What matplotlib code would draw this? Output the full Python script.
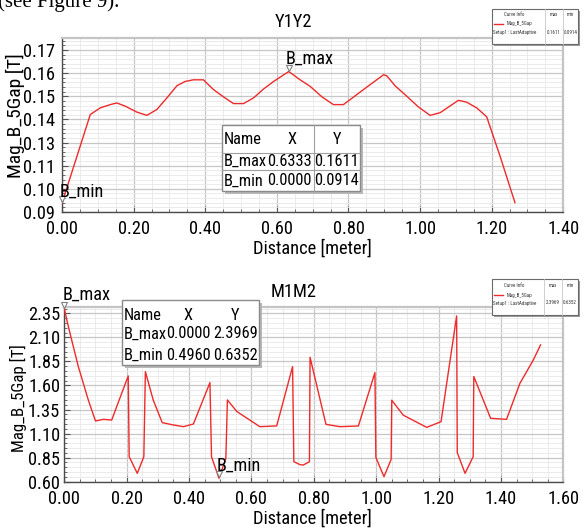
import matplotlib
matplotlib.use('Agg')
import matplotlib.pyplot as plt
from matplotlib.ticker import FixedLocator, AutoMinorLocator, FixedFormatter, FormatStrFormatter
from matplotlib.patches import Rectangle
from matplotlib import font_manager as fm
import matplotlib.transforms as mtrans

# ---------------- data ----------------
y1y2_x = [0.000, 0.079, 0.107, 0.135, 0.153, 0.177, 0.209, 0.237, 0.265, 0.293, 0.321,
          0.344, 0.367, 0.395, 0.423, 0.451, 0.479, 0.507, 0.535, 0.563, 0.591, 0.6333,
          0.665, 0.693, 0.726, 0.758, 0.786, 0.842, 0.898, 0.907, 0.930, 0.963, 0.995,
          1.028, 1.056, 1.107, 1.130, 1.158, 1.186, 1.223, 1.265]
y1y2_y = [0.0958, 0.1394, 0.1427, 0.1443, 0.1451, 0.1435, 0.1406, 0.1390, 0.1419, 0.1476, 0.1536,
          0.1557, 0.1565, 0.1565, 0.1517, 0.1481, 0.1448, 0.1448, 0.1476, 0.1520, 0.1557, 0.1606,
          0.1565, 0.1533, 0.1481, 0.1443, 0.1443, 0.1517, 0.1590, 0.1585, 0.1536, 0.1484, 0.1432,
          0.1390, 0.1403, 0.1464, 0.1455, 0.1427, 0.1383, 0.1191, 0.0960]
y1y2_max_idx = 21
y1y2_min_idx = 0
y1y2_table = [["Name", "X", "Y"], ["B_max", "0.6333", "0.1611"], ["B_min", "0.0000", "0.0914"]]
y1y2_yticks = [0.0914, 0.1028, 0.1142, 0.1256, 0.1370, 0.1484, 0.1598, 0.1712]
y1y2_yticklabels = ["0.09", "0.10", "0.11", "0.13", "0.14", "0.15", "0.16", "0.17"]
y1y2_xticks = [0.0, 0.2, 0.4, 0.6, 0.8, 1.0, 1.2, 1.4]
y1y2_legend = ["0.1611", "0.0914"]

m1m2_x = [0.000, 0.013, 0.029, 0.045, 0.061, 0.077, 0.100, 0.125, 0.152, 0.168, 0.205, 0.208,
          0.234, 0.255, 0.260, 0.285, 0.314, 0.349, 0.382, 0.414, 0.467, 0.472, 0.496, 0.518,
          0.523, 0.553, 0.627, 0.681, 0.732, 0.736, 0.756, 0.766, 0.786, 0.788, 0.839, 0.884,
          0.943, 0.996, 0.999, 1.025, 1.048, 1.050, 1.087, 1.162, 1.208, 1.258, 1.260, 1.285,
          1.311, 1.313, 1.367, 1.418, 1.461, 1.504, 1.527]
m1m2_y = [2.3969, 2.212, 2.004, 1.796, 1.623, 1.449, 1.231, 1.248, 1.241, 1.380, 1.699, 0.860,
          0.687, 0.860, 1.744, 1.450, 1.214, 1.190, 1.172, 1.200, 1.630, 0.860, 0.6352, 0.843,
          1.450, 1.330, 1.172, 1.180, 1.796, 0.808, 0.777, 0.773, 0.808, 1.893, 1.196, 1.172,
          1.179, 1.734, 0.853, 0.652, 0.832, 1.447, 1.291, 1.165, 1.224, 2.323, 0.902, 0.687,
          0.860, 1.693, 1.259, 1.248, 1.623, 1.866, 2.022]
m1m2_max_idx = 0
m1m2_min_idx = 22
m1m2_table = [["Name", "X", "Y"], ["B_max", "0.0000", "2.3969"], ["B_min", "0.4960", "0.6352"]]
m1m2_yticks = [0.60, 0.85, 1.10, 1.35, 1.60, 1.85, 2.10, 2.35]
m1m2_xticks = [0.0, 0.2, 0.4, 0.6, 0.8, 1.0, 1.2, 1.4, 1.6]
m1m2_legend = ["2.3969", "0.6352"]

# ---------------- fonts ----------------
_names = {f.name for f in fm.fontManager.ttflist}
_narrow = None
for cand in ['Liberation Sans Narrow', 'Arial Narrow', 'Roboto Condensed',
             'Noto Sans Condensed', 'Open Sans Condensed']:
    if cand in _names:
        _narrow = cand
        break
if _narrow:
    FAM = [_narrow, 'DejaVu Sans']
    K = 1.2
else:
    FAM = ['Liberation Sans', 'DejaVu Sans']
    K = 1.0
plt.rcParams['font.family'] = FAM
FS_TICK = 11 * K
FS_TAB = 9.8 * K
FS_LAB = 11 * K
FS_ANN = 11 * K
FS_YLAB1 = 14 if _narrow else 12.5
FS_YLAB2 = 12.2 if _narrow else 11

# ---------------- figure ----------------
W, H = 586, 529
fig = plt.figure(figsize=(W / 100, H / 100), dpi=100)
fig.patch.set_facecolor('white')


def fx(px):
    return px / W


def fy(py):
    return 1 - py / H


def pt(px):
    return px * 72 / 100


RED = '#f02a2a'


def style_axes(ax):
    ax.set_axisbelow(True)
    ax.grid(which='major', color='#c6c6c6', lw=0.9)
    ax.grid(which='minor', color='#e8e8e8', lw=0.6)
    for s in ['left', 'bottom']:
        ax.spines[s].set_color('#4a4a4a')
        ax.spines[s].set_linewidth(1.0)
    for s in ['top', 'right']:
        ax.spines[s].set_color('#c4c4c4')
        ax.spines[s].set_linewidth(1.6)
    ax.tick_params(which='both', direction='in', colors='#555555', labelcolor='black',
                   labelsize=FS_TICK)
    ax.tick_params(which='major', length=4, width=0.8)
    ax.tick_params(which='minor', length=2.5, width=0.6)
    ax.tick_params(axis='y', pad=5)
    ax.tick_params(axis='x', pad=6)


def draw_table(box, rows, cols, rowy, hlines=None, vlines=None):
    l, t, r, b = box
    fig.patches.append(Rectangle((fx(l + 3), fy(b + 3)), fx(r - l), (b - t) / H,
                                 transform=fig.transFigure, facecolor='#b8b8b8',
                                 edgecolor='none', zorder=10))
    fig.patches.append(Rectangle((fx(l), fy(b)), fx(r - l), (b - t) / H,
                                 transform=fig.transFigure, facecolor='white',
                                 edgecolor='#8a8a8a', lw=1.0, zorder=11))
    for yy in (hlines or []):
        fig.add_artist(plt.Line2D([fx(l), fx(r)], [fy(yy), fy(yy)], transform=fig.transFigure,
                                  color='#a0a0a0', lw=0.8, zorder=12))
    for xx in (vlines or []):
        fig.add_artist(plt.Line2D([fx(xx), fx(xx)], [fy(t), fy(b)], transform=fig.transFigure,
                                  color='#a0a0a0', lw=0.8, zorder=12))
    for i, (row, yy) in enumerate(zip(rows, rowy)):
        spec = cols[0] if i == 0 else cols[1]
        for txt, (xx, al) in zip(row, spec):
            fig.text(fx(xx), fy(yy), txt, ha=al, va='center', fontsize=FS_TAB,
                     color='black', zorder=13)


def draw_legend(box, cols, vals, rowy):
    l, t, r, b = box
    fig.patches.append(Rectangle((fx(l + 2), fy(b + 2)), fx(r - l), (b - t) / H,
                                 transform=fig.transFigure, facecolor='#9a9a9a',
                                 edgecolor='none', zorder=10))
    fig.patches.append(Rectangle((fx(l), fy(b)), fx(r - l), (b - t) / H,
                                 transform=fig.transFigure, facecolor='white',
                                 edgecolor='#6a6a6a', lw=0.8, zorder=11))
    for xx in cols:
        fig.add_artist(plt.Line2D([fx(xx), fx(xx)], [fy(t), fy(b)], transform=fig.transFigure,
                                  color='#c8c8c8', lw=0.6, zorder=12))
    fs = 3.6
    c = '#333333'
    fig.text(fx((l + cols[0]) / 2 - 4), fy(rowy[0]), "Curve Info", ha='center', va='center',
             fontsize=fs, color=c, zorder=13)
    fig.text(fx((cols[0] + cols[1]) / 2), fy(rowy[0]), "max", ha='center', va='center',
             fontsize=fs, color=c, zorder=13)
    fig.text(fx((cols[1] + r) / 2), fy(rowy[0]), "min", ha='center', va='center',
             fontsize=fs, color=c, zorder=13)
    fig.add_artist(plt.Line2D([fx(l + 2), fx(l + 11)], [fy(rowy[1]), fy(rowy[1])],
                              transform=fig.transFigure, color=RED, lw=1.0, zorder=13))
    fig.text(fx(l + 15), fy(rowy[1]), "Mag_B_5Gap", ha='left', va='center', fontsize=fs,
             color=c, zorder=13)
    fig.text(fx(l + 1), fy(rowy[2]), "Setup1 : LastAdaptive", ha='left', va='center',
             fontsize=fs, color=c, zorder=13)
    fig.text(fx((cols[0] + cols[1]) / 2), fy(rowy[2]), vals[0], ha='center', va='center',
             fontsize=fs, color=c, zorder=13)
    fig.text(fx((cols[1] + r) / 2), fy(rowy[2]), vals[1], ha='center', va='center',
             fontsize=fs, color=c, zorder=13)


def mark(ax, x, y, label, dx_text=-3, dy_text=12):
    tr = mtrans.offset_copy(ax.transData, fig=fig, x=0, y=pt(4), units='points')
    ax.plot([x], [y], marker='v', ms=5, mfc='white', mec='#808080', mew=0.8,
            transform=tr, clip_on=False, zorder=5)
    ax.annotate(label, (x, y), xytext=(pt(dx_text), pt(dy_text)), textcoords='offset points',
                ha='left', va='center', fontsize=FS_ANN, annotation_clip=False, zorder=6)


# ---------------- top chart ----------------
ax1 = fig.add_axes([fx(62), fy(212), fx(563.3 - 62), (212 - 38) / H])
style_axes(ax1)
ax1.plot(y1y2_x, y1y2_y, color=RED, lw=1.0, zorder=3)
ax1.set_xlim(0, 1.40)
ax1.set_ylim(0.0914, 0.1771)
ax1.xaxis.set_major_locator(FixedLocator(y1y2_xticks))
ax1.xaxis.set_major_formatter(FormatStrFormatter('%.2f'))
ax1.xaxis.set_minor_locator(AutoMinorLocator(4))
ax1.yaxis.set_major_locator(FixedLocator(y1y2_yticks))
ax1.yaxis.set_major_formatter(FixedFormatter(y1y2_yticklabels))
ax1.yaxis.set_minor_locator(AutoMinorLocator(5))
mark(ax1, y1y2_x[y1y2_max_idx], y1y2_y[y1y2_max_idx], "B_max", -3, 13)
mark(ax1, y1y2_x[y1y2_min_idx], y1y2_y[y1y2_min_idx], "B_min", -2, 11)
fig.text(fx(293), fy(22), "Y1Y2", ha='center', va='center', fontsize=FS_LAB)
fig.text(fx(312), fy(249), "Distance [meter]", ha='center', va='center', fontsize=FS_LAB)
fig.text(fx(15), fy(115.5), "Mag_B_5Gap [T]", ha='center', va='center', fontsize=FS_YLAB1,
         rotation=90)
draw_table((221.7, 125, 360, 190.5), y1y2_table,
           [[(224, 'left'), (291.7, 'center'), (337, 'center')],
            [(224, 'left'), (312, 'right'), (358.5, 'right')]],
           [140, 161.5, 181], hlines=[152.5, 170], vlines=[314])
draw_legend((492, 9, 578, 44), [545, 563], y1y2_legend, [15, 23.5, 32.5])

# ---------------- bottom chart ----------------
ax2 = fig.add_axes([fx(64.3), fy(481.7), fx(563.3 - 64.3), (481.7 - 306.7) / H])
style_axes(ax2)
ax2.plot(m1m2_x, m1m2_y, color=RED, lw=1.0, zorder=3)
ax2.set_xlim(0, 1.60)
ax2.set_ylim(0.60, 2.419)
ax2.xaxis.set_major_locator(FixedLocator(m1m2_xticks))
ax2.xaxis.set_major_formatter(FormatStrFormatter('%.2f'))
ax2.xaxis.set_minor_locator(AutoMinorLocator(4))
ax2.yaxis.set_major_locator(FixedLocator(m1m2_yticks))
ax2.yaxis.set_major_formatter(FormatStrFormatter('%.2f'))
ax2.yaxis.set_minor_locator(AutoMinorLocator(5))
ax2.tick_params(axis='y', pad=3)
mark(ax2, m1m2_x[m1m2_max_idx], m1m2_y[m1m2_max_idx], "B_max", -2, 14)
mark(ax2, m1m2_x[m1m2_min_idx], m1m2_y[m1m2_min_idx], "B_min", -2, 13)
fig.text(fx(294), fy(291.7), "M1M2", ha='center', va='center', fontsize=FS_LAB)
fig.text(fx(312), fy(519), "Distance [meter]", ha='center', va='center', fontsize=FS_LAB)
fig.text(fx(18), fy(398), "Mag_B_5Gap [T]", ha='center', va='center', fontsize=FS_YLAB2,
         rotation=90)
draw_table((121.7, 300, 259, 365), m1m2_table,
           [[(124, 'left'), (188.3, 'center'), (235, 'center')],
            [(123.5, 'left'), (210.5, 'right'), (257.5, 'right')]],
           [315, 334, 355.5])
draw_legend((492, 279, 578, 315), [544, 562], m1m2_legend, [285.5, 295, 303])

# caption fragment at very top
fig.text(-0.004, fy(7), "(see Figure 9).", ha='left', va='baseline', fontsize=15,
         family=['Liberation Serif', 'DejaVu Serif'])

fig.savefig('out.png', dpi=100)
